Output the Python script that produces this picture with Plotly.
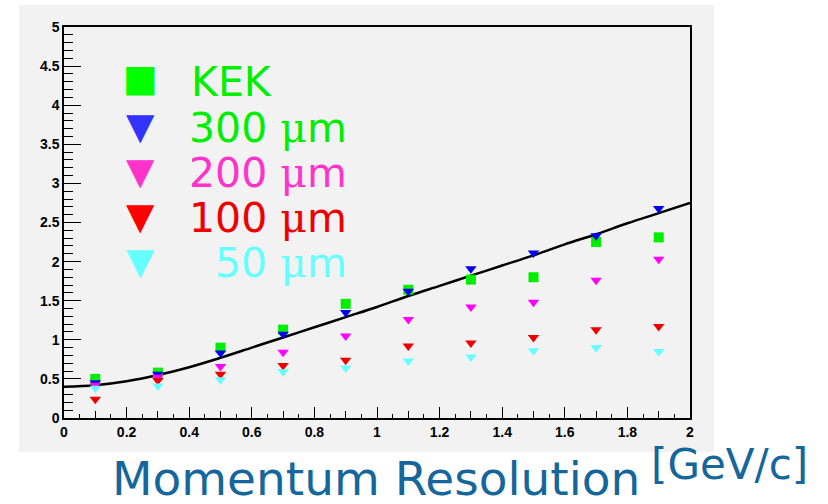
import plotly.graph_objects as go

# ---------------- data ----------------
momentum = [0.1, 0.3, 0.5, 0.7, 0.9, 1.1, 1.3, 1.5, 1.7, 1.9]
kek = [0.50, 0.58, 0.90, 1.13, 1.46, 1.64, 1.77, 1.80, 2.25, 2.31]
res_300 = [0.45, 0.56, 0.83, 1.07, 1.35, 1.62, 1.91, 2.11, 2.33, 2.68]
res_200 = [0.42, 0.52, 0.66, 0.84, 1.05, 1.26, 1.42, 1.48, 1.76, 2.03]
res_100 = [0.24, 0.48, 0.56, 0.67, 0.74, 0.92, 0.96, 1.03, 1.13, 1.17]
res_50 = [0.38, 0.41, 0.49, 0.59, 0.64, 0.73, 0.78, 0.86, 0.90, 0.85]

curve_x = [0.0, 0.1, 0.2, 0.3, 0.4, 0.5, 0.6, 0.7, 0.8, 0.9, 1.0,
           1.1, 1.2, 1.3, 1.4, 1.5, 1.6, 1.7, 1.8, 1.9, 2.0]
curve_y = [0.40, 0.42, 0.47, 0.55, 0.65, 0.77, 0.90, 1.03, 1.16, 1.29, 1.42,
           1.56, 1.69, 1.82, 1.95, 2.08, 2.22, 2.35, 2.49, 2.62, 2.75]

series_names = ["KEK", "300 μm", "200 μm", "100 μm", "50 μm"]
x_tick_vals = [0, 0.2, 0.4, 0.6, 0.8, 1, 1.2, 1.4, 1.6, 1.8, 2]
x_tick_text = ["0", "0.2", "0.4", "0.6", "0.8", "1", "1.2", "1.4", "1.6", "1.8", "2"]
y_tick_vals = [0, 0.5, 1, 1.5, 2, 2.5, 3, 3.5, 4, 4.5, 5]
y_tick_text = ["0", "0.5", "1", "1.5", "2", "2.5", "3", "3.5", "4", "4.5", "5"]
axis_title = "Momentum Resolution"
axis_unit = "[GeV/c]"

# ---------------- styles ----------------
W, H = 828, 504
ML, MR, MT, MB = 64, 138, 27, 86
PW, PH = W - ML - MR, H - MT - MB


def px(xp, yp):
    return (xp - ML) / PW, (H - MB - yp) / PH


data_colors = ["#00ee00", "#0000ee", "#ff00ff", "#ee0000", "#66ffff"]
legend_marker_colors = ["#00ff00", "#3333ff", "#ff33cc", "#ff0000", "#66ffff"]
legend_text_colors = ["#00ee00", "#00ee00", "#ff33cc", "#ee0000", "#66ffff"]
symbols = ["square", "triangle-down", "triangle-down", "triangle-down", "triangle-down"]
series = [kek, res_300, res_200, res_100, res_50]

fig = go.Figure()

fig.add_trace(go.Scatter(x=curve_x, y=curve_y, mode="lines",
                         line=dict(color="black", width=2.5, shape="spline"),
                         showlegend=False, hoverinfo="skip"))

for name, vals, col, sym in zip(series_names, series, data_colors, symbols):
    fig.add_trace(go.Scatter(x=momentum, y=vals, mode="markers", name=name,
                             marker=dict(symbol=sym, color=col, size=10,
                                         line=dict(width=0)),
                             showlegend=False))

# medium ticks axis (overlay)
fig.add_trace(go.Scatter(x=[], y=[], xaxis="x2", showlegend=False))

tickfont = dict(family="Liberation Sans, Arial, sans-serif", size=14,
                color="black", weight="bold")

fig.update_layout(
    width=W, height=H,
    margin=dict(l=ML, r=MR, t=MT, b=MB, pad=0),
    paper_bgcolor="white",
    plot_bgcolor="#f2f2f2",
    showlegend=False,
    xaxis=dict(range=[0, 2], tickmode="array", tickvals=x_tick_vals,
               ticktext=x_tick_text, ticks="inside", ticklen=11,
               tickwidth=1.2, tickcolor="black", showgrid=False,
               zeroline=False, showline=True, linecolor="black",
               linewidth=1.5, mirror=True, tickfont=tickfont,
               minor=dict(dtick=0.05, ticks="inside", ticklen=4,
                          tickwidth=1.2, tickcolor="black", showgrid=False)),
    xaxis2=dict(range=[0, 2], overlaying="x", anchor="y", side="bottom",
                tick0=0.1, dtick=0.2, ticks="inside", ticklen=7,
                tickwidth=1.2, tickcolor="black", showticklabels=False,
                showgrid=False, zeroline=False, showline=False),
    yaxis=dict(range=[0, 5], tickmode="array", tickvals=y_tick_vals,
               ticktext=y_tick_text, ticks="inside", ticklen=17,
               tickwidth=1.2, tickcolor="black", showgrid=False,
               zeroline=False, showline=True, linecolor="black",
               linewidth=1.5, mirror=True, tickfont=tickfont,
               minor=dict(dtick=0.1, ticks="inside", ticklen=9,
                          tickwidth=1.2, tickcolor="black", showgrid=False)),
)

# gray canvas panel behind the frame
x0, y0 = px(19, 452)
x1, y1 = px(714, 5)
fig.add_shape(type="rect", xref="paper", yref="paper", x0=x0, y0=y0,
              x1=x1, y1=y1, fillcolor="#f2f2f2", line=dict(width=0),
              layer="below")

# legend drawn as annotations
legend_rows = [82, 128, 173, 218, 263]
glyph_rows = [79, 126, 171, 216, 261]
legend_glyphs = ["■", "▼", "▼", "▼", "▼"]
for i, name in enumerate(series_names):
    gx, gy = px(140, glyph_rows[i])
    fig.add_annotation(xref="paper", yref="paper", x=gx, y=gy,
                       text=legend_glyphs[i], showarrow=False,
                       xanchor="center", yanchor="middle",
                       font=dict(family="DejaVu Sans", size=37,
                                 color=legend_marker_colors[i]))
    label = name.replace("μ", "<span style=\"font-family:'DejaVu Serif'\">μ</span>")
    if i == 0:
        tx, ty = px(189, legend_rows[i])
        xa = "left"
    else:
        tx, ty = px(349, legend_rows[i])
        xa = "right"
    fig.add_annotation(xref="paper", yref="paper", x=tx, y=ty, text=label,
                       showarrow=False, xanchor=xa, yanchor="middle",
                       font=dict(family="DejaVu Sans", size=41,
                                 color=legend_text_colors[i]))

# axis title below
tx, ty = px(110, 479)
fig.add_annotation(xref="paper", yref="paper", x=tx, y=ty, text=axis_title,
                   showarrow=False, xanchor="left", yanchor="middle",
                   font=dict(family="DejaVu Sans", size=47, color="#15679b"))
tx, ty = px(649, 464)
fig.add_annotation(xref="paper", yref="paper", x=tx, y=ty, text=axis_unit,
                   showarrow=False, xanchor="left", yanchor="middle",
                   font=dict(family="DejaVu Sans", size=42, color="#15679b"))

fig.write_html("out.html")
